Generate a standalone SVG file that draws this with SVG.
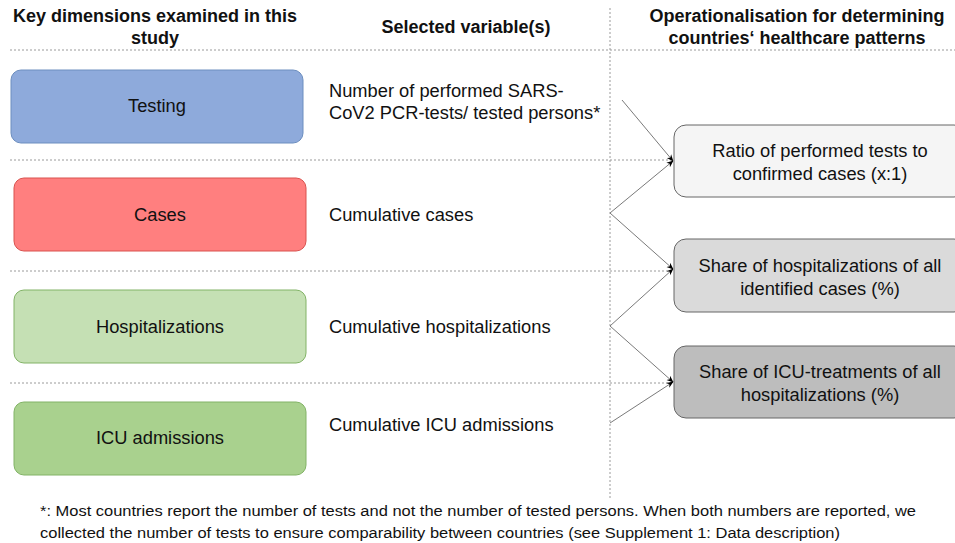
<svg xmlns="http://www.w3.org/2000/svg" width="955" height="543" viewBox="0 0 955 543">
<style>
text{font-family:"Liberation Sans",Arial,sans-serif;fill:#111}
.h{font-size:18px;font-weight:bold;text-anchor:middle}
.b{font-size:18.3px}
.c{font-size:18.3px;text-anchor:middle}
.f{font-size:15.5px}
.dot{stroke:#9a9a9a;stroke-width:1;stroke-dasharray:2 2;fill:none}
.con{stroke:#7a7a7a;stroke-width:1;fill:none;marker-end:url(#ah)}
</style>
<defs>
<marker id="ah" viewBox="0 0 10 10" refX="9" refY="5" markerWidth="7" markerHeight="7" orient="auto" markerUnits="userSpaceOnUse">
<path d="M0,1 L10,5 L0,9 L3,5 Z" fill="#000"/>
</marker>
</defs>
<rect width="955" height="543" fill="#fff"/>
<g id="grid">
<line class="dot" x1="10" y1="50" x2="955" y2="50"/>
<line class="dot" x1="10" y1="160" x2="672" y2="160"/>
<line class="dot" x1="10" y1="271" x2="672" y2="271"/>
<line class="dot" x1="10" y1="383" x2="672" y2="383"/>
<line class="dot" x1="610" y1="8" x2="610" y2="500"/>
</g>
<g id="headers">
<text class="h" x="155" y="22">Key dimensions examined in this</text>
<text class="h" x="155" y="44">study</text>
<text class="h" x="466" y="33">Selected variable(s)</text>
<text class="h" x="797" y="22">Operationalisation for determining</text>
<text class="h" x="797" y="44">countries‘ healthcare patterns</text>
</g>
<g id="testing">
<rect x="11" y="70" width="292" height="73" rx="10" fill="#8eaadb" stroke="#6c8ebf"/>
<text class="c" x="157" y="112">Testing</text>
</g>
<g id="cases">
<rect x="14" y="178" width="292" height="73" rx="10" fill="#ff7f7f" stroke="#d9534f"/>
<text class="c" x="160" y="221">Cases</text>
</g>
<g id="hospitalizations">
<rect x="14" y="290" width="292" height="73" rx="10" fill="#c5e0b4" stroke="#82b366"/>
<text class="c" x="160" y="333">Hospitalizations</text>
</g>
<g id="icu">
<rect x="14" y="402" width="292" height="73" rx="10" fill="#a9d18e" stroke="#82b366"/>
<text class="c" x="160" y="444">ICU admissions</text>
</g>
<g id="var-testing">
<text class="b" x="329" y="97">Number of performed SARS-</text>
<text class="b" x="329" y="119">CoV2 PCR-tests/ tested persons*</text>
</g>
<g id="var-cases"><text class="b" x="329" y="221">Cumulative cases</text></g>
<g id="var-hosp"><text class="b" x="329" y="333">Cumulative hospitalizations</text></g>
<g id="var-icu"><text class="b" x="329" y="431">Cumulative ICU admissions</text></g>
<g id="ratio">
<rect x="674" y="125" width="292" height="72" rx="12" fill="#f5f5f5" stroke="#666"/>
<text class="c" x="820" y="157">Ratio of performed tests to</text>
<text class="c" x="820" y="180">confirmed cases (x:1)</text>
</g>
<g id="share-hosp">
<rect x="674" y="239" width="292" height="73" rx="12" fill="#dadada" stroke="#666"/>
<text class="c" x="820" y="272">Share of hospitalizations of all</text>
<text class="c" x="820" y="295">identified cases (%)</text>
</g>
<g id="share-icu">
<rect x="674" y="346" width="292" height="72" rx="12" fill="#bdbdbd" stroke="#666"/>
<text class="c" x="820" y="378">Share of ICU-treatments of all</text>
<text class="c" x="820" y="401">hospitalizations (%)</text>
</g>
<g id="connectors">
<line class="con" x1="622" y1="100" x2="673" y2="161"/>
<line class="con" x1="610" y1="213" x2="673" y2="161"/>
<line class="con" x1="610" y1="213" x2="673" y2="269"/>
<line class="con" x1="610" y1="326" x2="673" y2="269"/>
<line class="con" x1="610" y1="326" x2="673" y2="382"/>
<line class="con" x1="610" y1="423" x2="673" y2="382"/>
</g>
<g id="footnote">
<text class="f" x="40" y="516" textLength="876" lengthAdjust="spacingAndGlyphs">*: Most countries report the number of tests and not the number of tested persons. When both numbers are reported, we</text>
<text class="f" x="40" y="538" textLength="800" lengthAdjust="spacingAndGlyphs">collected the number of tests to ensure comparability between countries (see Supplement 1: Data description)</text>
</g>
</svg>
